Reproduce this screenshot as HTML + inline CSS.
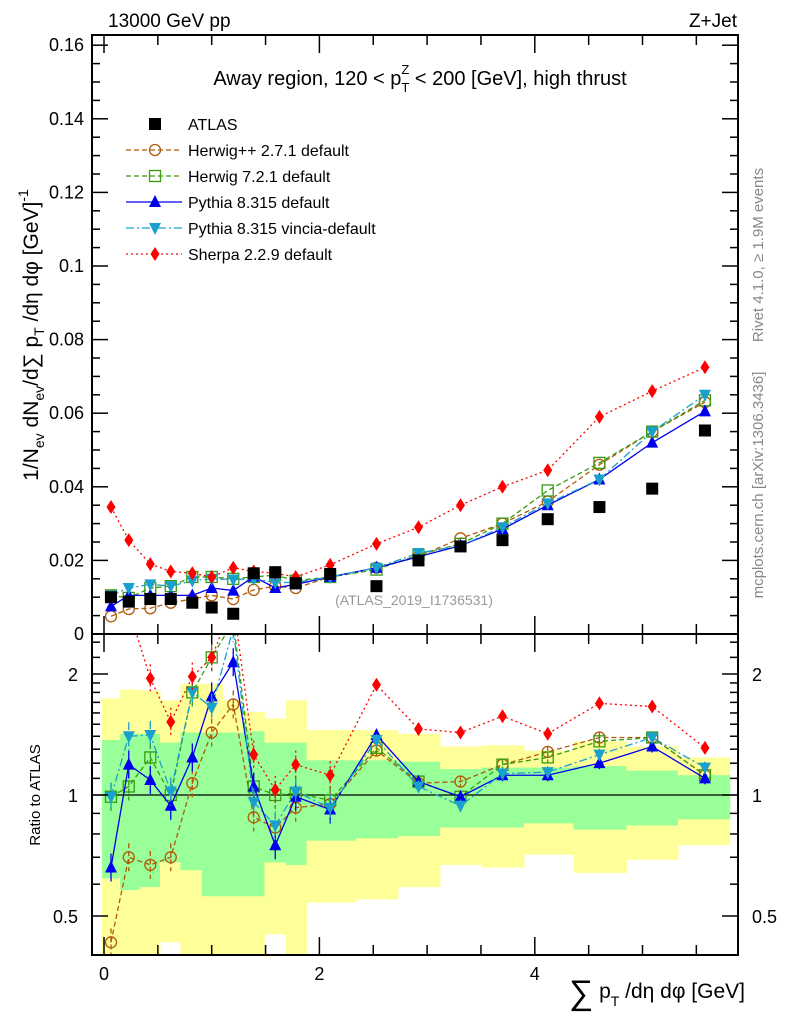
<!DOCTYPE html>
<html><head><meta charset="utf-8"><style>
body{margin:0;background:#fff}
svg text{font-family:"Liberation Sans",sans-serif}
</style></head><body>
<svg id="c" width="786" height="1024" viewBox="0 0 786 1024" xmlns="http://www.w3.org/2000/svg">
<defs>
<clipPath id="mainclip"><rect x="92" y="35" width="646" height="599"/></clipPath>
<clipPath id="ratclip"><rect x="92" y="634" width="646" height="321"/></clipPath>
</defs>
<g id="bands" clip-path="url(#ratclip)"></g>
<g id="marks"></g>
<g id="axes"></g>
<text x="108" y="27" font-size="19">13000 GeV pp</text>
<text x="737" y="27" font-size="19" text-anchor="end">Z+Jet</text>
<text x="420" y="85" font-size="20" text-anchor="middle">Away region, 120 &lt; p<tspan font-size="13" dy="7">T</tspan><tspan font-size="13" dx="-8" dy="-18">Z</tspan><tspan dy="11"> &lt; 200 [GeV], high thrust</tspan></text>
<text x="414" y="605" font-size="14" fill="#999" text-anchor="middle">(ATLAS_2019_I1736531)</text>
<text transform="translate(763,255) rotate(-90)" font-size="15" fill="#888" text-anchor="middle">Rivet 4.1.0, ≥ 1.9M events</text>
<text transform="translate(763,485) rotate(-90)" font-size="15" fill="#888" text-anchor="middle">mcplots.cern.ch [arXiv:1306.3436]</text>
<text transform="translate(38,335) rotate(-90)" font-size="21" text-anchor="middle">1/N<tspan font-size="14" dy="6">ev</tspan><tspan dy="-6"> dN</tspan><tspan font-size="14" dy="6">ev</tspan><tspan dy="-6">/d∑ p</tspan><tspan font-size="14" dy="6">T</tspan><tspan dy="-6"> /dη dφ  [GeV]</tspan><tspan font-size="14" dy="-10">-1</tspan></text>
<text transform="translate(40,795) rotate(-90)" font-size="15" text-anchor="middle">Ratio to ATLAS</text>
<text x="745" y="998" font-size="21" text-anchor="end"><tspan font-size="34" dy="6">∑</tspan><tspan dy="-6"> p</tspan><tspan font-size="14" dy="8">T</tspan><tspan dy="-8"> /dη dφ [GeV]</tspan></text>
<g id="legend"></g>
</svg>
<script>
const xs=[0.065,0.23,0.43,0.62,0.82,1.0,1.2,1.39,1.59,1.78,2.1,2.53,2.92,3.31,3.7,4.12,4.6,5.09,5.58];
const edges=[-0.02,0.15,0.33,0.52,0.71,0.91,1.1,1.29,1.49,1.69,1.88,2.34,2.73,3.12,3.51,3.9,4.36,4.85,5.33,5.81];
const atlas=[0.010,0.0088,0.0095,0.0095,0.0085,0.0072,0.0055,0.0165,0.0168,0.0138,0.0163,0.013,0.020,0.0238,0.0255,0.0312,0.0345,0.0395,0.0553];
const herwigpp=[0.0048,0.0068,0.007,0.0085,0.0095,0.0105,0.0095,0.012,0.013,0.0125,0.0155,0.018,0.021,0.026,0.030,0.036,0.046,0.055,0.063];
const herwig7=[0.0105,0.0098,0.0125,0.013,0.0155,0.0155,0.015,0.0155,0.016,0.0145,0.0155,0.0175,0.0215,0.0245,0.030,0.039,0.0465,0.055,0.0635];
const pythia=[0.0075,0.0105,0.0105,0.0105,0.0105,0.0125,0.0118,0.0156,0.0125,0.0135,0.0155,0.018,0.021,0.024,0.0285,0.035,0.042,0.052,0.0605];
const vincia=[0.0105,0.0125,0.0135,0.013,0.0145,0.015,0.0148,0.015,0.014,0.014,0.0155,0.018,0.022,0.024,0.029,0.0355,0.042,0.055,0.065];
const sherpa=[0.0345,0.0255,0.019,0.017,0.0165,0.0155,0.018,0.017,0.0165,0.0155,0.0188,0.0245,0.029,0.035,0.040,0.0445,0.059,0.066,0.0725];
const rHerwigpp=[0.43,0.70,0.67,0.70,1.07,1.43,1.68,0.88,0.83,0.93,0.95,1.29,1.07,1.08,1.19,1.28,1.39,1.39,1.12];
const rHerwig7=[0.99,1.05,1.24,1.0,1.8,2.2,2.7,1.05,1.0,1.01,0.97,1.31,1.08,0.99,1.19,1.24,1.36,1.39,1.12];
const rPythia=[0.66,1.19,1.09,0.94,1.24,1.76,2.14,1.05,0.75,0.99,0.92,1.41,1.08,0.99,1.12,1.12,1.2,1.32,1.1];
const rVincia=[0.99,1.4,1.41,1.02,1.8,1.65,2.6,0.96,0.84,1.02,0.93,1.37,1.05,0.94,1.13,1.14,1.26,1.39,1.17];
const rSherpa=[3.5,2.9,1.95,1.52,1.97,2.2,3.0,1.26,1.03,1.19,1.12,1.88,1.46,1.43,1.57,1.42,1.69,1.66,1.31];
const yellowHi=[1.74,1.83,1.82,1.72,1.89,1.89,1.72,1.61,1.55,1.72,1.45,1.45,1.42,1.32,1.33,1.29,1.36,1.32,1.24];
const yellowLo=[0.4,0.4,0.4,0.43,0.4,0.4,0.4,0.4,0.45,0.4,0.54,0.55,0.59,0.67,0.66,0.71,0.64,0.69,0.75];
const greenHi=[1.37,1.42,1.42,1.35,1.43,1.43,1.43,1.44,1.35,1.35,1.22,1.22,1.21,1.16,1.17,1.17,1.18,1.15,1.12];
const greenLo=[0.62,0.58,0.59,0.68,0.65,0.56,0.56,0.56,0.68,0.67,0.77,0.78,0.79,0.83,0.83,0.85,0.82,0.84,0.87];
const mainTicks=[0,0.02,0.04,0.06,0.08,0.1,0.12,0.14,0.16];
const mainTickLabels=["0","0.02","0.04","0.06","0.08","0.1","0.12","0.14","0.16"];
const xTicks=[0,2,4];
const ratioTicks=[0.5,1,2];

const NS="http://www.w3.org/2000/svg";
const X=v=>104+v*107.7;
const Y=v=>634-v*3680;
const R=v=>795-121*Math.log2(v);
function mk(t,a,p){const e=document.createElementNS(NS,t);for(const k in a)e.setAttribute(k,a[k]);(p||document.getElementById('marks')).appendChild(e);return e;}

const bg=document.getElementById('bands');
for(let i=0;i<xs.length;i++){
  let e=mk('rect',{x:X(edges[i]),y:R(yellowHi[i]),width:X(edges[i+1])-X(edges[i])+0.5,height:R(yellowLo[i])-R(yellowHi[i]),fill:'#ffff99'},bg);
  
  
  let g=mk('rect',{x:X(edges[i]),y:R(greenHi[i]),width:X(edges[i+1])-X(edges[i])+0.5,height:R(greenLo[i])-R(greenHi[i]),fill:'#99ff99'},bg);
  
  
}

const series=[
 {name:'herwigpp',vals:herwigpp,r:rHerwigpp,col:'#b05a0a',dash:'5,3',m:'circle',label:'Herwig++ 2.7.1 default'},
 {name:'herwig7',vals:herwig7,r:rHerwig7,col:'#3a9a10',dash:'5,3',m:'square',label:'Herwig 7.2.1 default'},
 {name:'pythia',vals:pythia,r:rPythia,col:'#0000ee',dash:'',m:'tri',label:'Pythia 8.315 default'},
 {name:'vincia',vals:vincia,r:rVincia,col:'#1aa0cc',dash:'8,3,2,3',m:'itri',label:'Pythia 8.315 vincia-default'},
 {name:'sherpa',vals:sherpa,r:rSherpa,col:'#ff0000',dash:'2,3',m:'diamond',label:'Sherpa 2.2.9 default'}
];
function marker(m,x,y,col,p){
  if(m==='circle')return mk('circle',{cx:x,cy:y,r:5.5,fill:'none',stroke:col,'stroke-width':1.3},p);
  if(m==='square')return mk('rect',{x:x-5.5,y:y-5.5,width:11,height:11,fill:'none',stroke:col,'stroke-width':1.3},p);
  if(m==='tri')return mk('polygon',{points:`${x},${y-7} ${x-6},${y+5} ${x+6},${y+5}`,fill:col},p);
  if(m==='itri')return mk('polygon',{points:`${x},${y+7} ${x-6},${y-5} ${x+6},${y-5}`,fill:col},p);
  if(m==='diamond')return mk('polygon',{points:`${x},${y-7} ${x-4.5},${y} ${x},${y+7} ${x+4.5},${y}`,fill:col},p);
  return mk('rect',{x:x-6,y:y-6,width:12,height:12,fill:col},p);
}
const mg=mk('g',{'clip-path':'url(#mainclip)'});
const rg=mk('g',{'clip-path':'url(#ratclip)'});
let ref=mk('line',{x1:92,x2:738,y1:R(1),y2:R(1),stroke:'#000','stroke-width':1.2},rg);


series.forEach(s=>{
  const pts=s.vals.map((v,i)=>X(xs[i])+','+Y(v)).join(' ');
  let l=mk('polyline',{points:pts,fill:'none',stroke:s.col,'stroke-width':1.3,'stroke-dasharray':s.dash},mg);
  
  
  const rp=s.r.map((v,i)=>X(xs[i])+','+R(v)).join(' ');
  let l2=mk('polyline',{points:rp,fill:'none',stroke:s.col,'stroke-width':1.3,'stroke-dasharray':s.dash},rg);
  
  
  s.vals.forEach((v,i)=>{
    let e=marker(s.m,X(xs[i]),Y(v),s.col,mg);
    
    
  });
  s.r.forEach((v,i)=>{
    const x=X(xs[i]),y=R(v),d=i<11?14:6;
    let eb=mk('line',{x1:x,x2:x,y1:y-d,y2:y+d,stroke:s.col,'stroke-width':1.3,'stroke-dasharray':s.dash},rg);
    
    
    let e=marker(s.m,x,y,s.col,rg);
    
    
  });
});
atlas.forEach((v,i)=>{
  let e=marker('sq',X(xs[i]),Y(v),'#000',mg);
  
  
});

const ax=document.getElementById('axes');
function ln(x1,y1,x2,y2,w){return mk('line',{x1,y1,x2,y2,stroke:'#000','stroke-width':w||1.5},ax);}
let f1=mk('rect',{x:92,y:35,width:646,height:599,fill:'none',stroke:'#000','stroke-width':2},ax);


let f2=mk('rect',{x:92,y:634,width:646,height:321,fill:'none',stroke:'#000','stroke-width':2},ax);


mainTicks.forEach((t,i)=>{
  ln(92,Y(t),108,Y(t));ln(738,Y(t),722,Y(t));
  if(i<mainTicks.length-1)for(let k=1;k<4;k++){const yy=Y(t+k*0.005);ln(92,yy,100,yy);ln(738,yy,730,yy);}
  let tx=mk('text',{x:84,y:Y(t)+6,'font-size':18,'text-anchor':'end'},ax);
  tx.textContent=mainTickLabels[i];
  
  
});
for(let v=0;v<=5.9;v+=0.5){
  const big=Math.abs(v-Math.round(v/2)*2)<1e-6;
  const h=big?18:10;
  ln(X(v),634,X(v),634-h);ln(X(v),35,X(v),35+h);
  ln(X(v),955,X(v),955-h);ln(X(v),634,X(v),634+h);
}
xTicks.forEach(t=>{
  let tx=mk('text',{x:X(t),y:980,'font-size':18,'text-anchor':'middle'},ax);
  tx.textContent=String(t);
  
  
});
ratioTicks.forEach(t=>{
  ln(92,R(t),108,R(t));ln(738,R(t),722,R(t));
  let a=mk('text',{x:78,y:R(t)+7,'font-size':18,'text-anchor':'end'},ax);a.textContent=String(t);
  
  
  let b=mk('text',{x:752,y:R(t)+7,'font-size':18},ax);b.textContent=String(t);
  
  
});
[0.4,0.6,0.7,0.8,0.9,1.1,1.2,1.3,1.4,1.5,1.6,1.7,1.8,1.9,2.2,2.4].forEach(t=>{ln(92,R(t),100,R(t));ln(738,R(t),730,R(t));});

const lg=document.getElementById('legend');
let ly=124;
let ea=marker('sq',155,ly,'#000',lg);


let ta=mk('text',{x:188,y:ly+6,'font-size':16},lg);ta.textContent='ATLAS';


series.forEach((s,i)=>{
  const y=ly+26*(i+1);
  mk('line',{x1:126,x2:182,y1:y,y2:y,stroke:s.col,'stroke-width':1.3,'stroke-dasharray':s.dash},lg);
  marker(s.m,155,y,s.col,lg);
  let t=mk('text',{x:188,y:y+6,'font-size':16},lg);t.textContent=s.label;
  
  
});
</script>
</body></html>
